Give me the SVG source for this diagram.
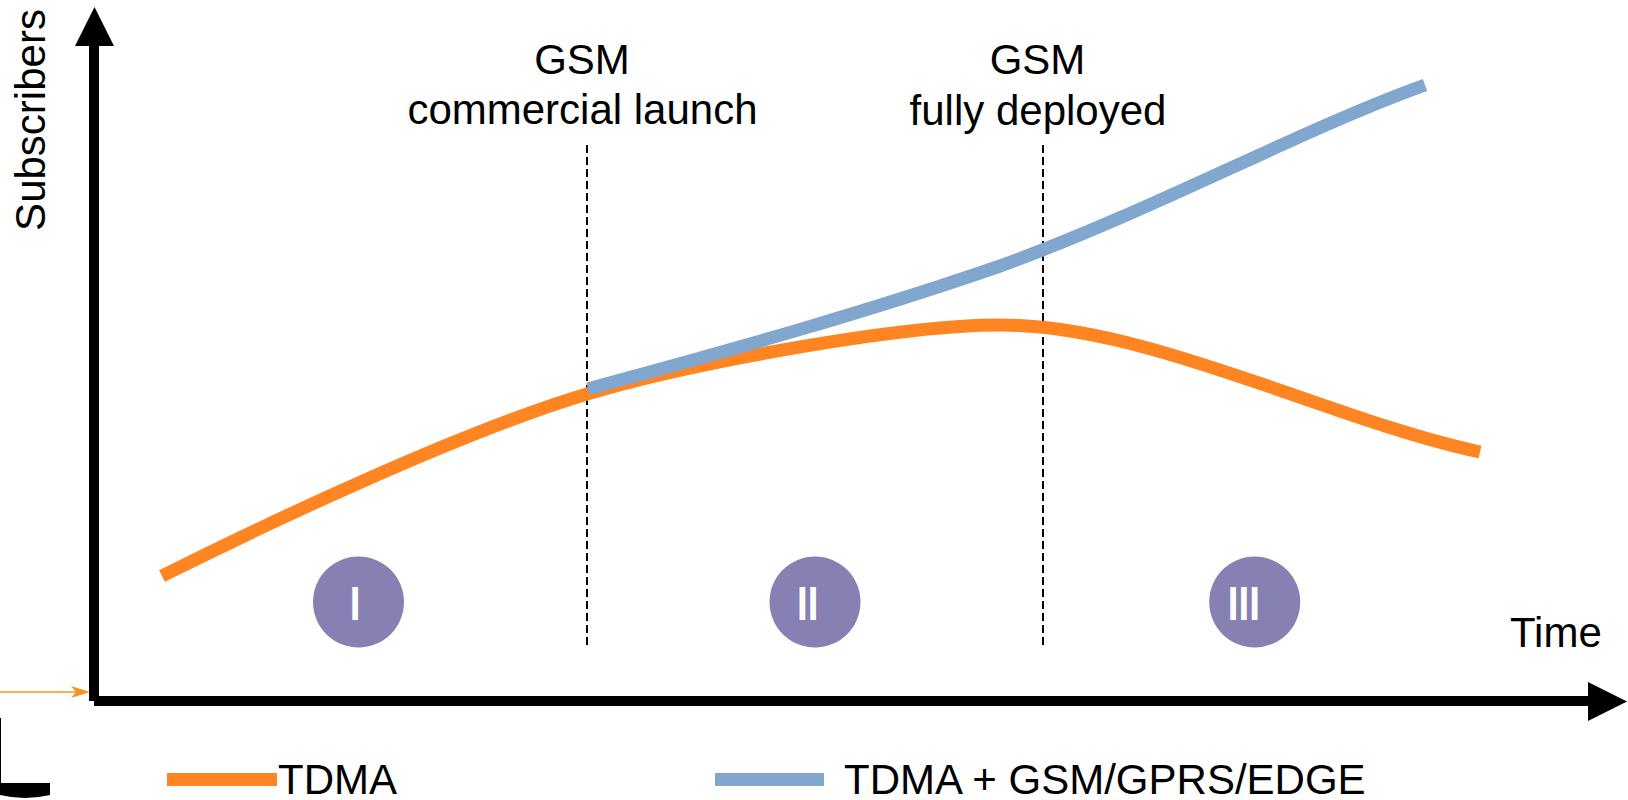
<svg xmlns="http://www.w3.org/2000/svg" width="1628" height="800" viewBox="0 0 1628 800">
<style>
.lbl{font-family:"Liberation Sans",Arial,sans-serif;font-size:42px;fill:#000}
.num{font-family:"Liberation Sans",Arial,sans-serif;font-size:48px;font-weight:bold;fill:#fff;text-anchor:middle}
.circ{fill:#8780B2}
.dash{stroke:#000;stroke-width:2;stroke-dasharray:8 4;fill:none}
.curve{fill:none;stroke-width:13;stroke-linecap:butt}
</style>
<rect width="1628" height="800" fill="#fff"/>
<g id="axes">
<path d="M94,701 V44" stroke="#000" stroke-width="10" fill="none"/>
<path d="M94,701 H1590" stroke="#000" stroke-width="10" fill="none"/>
<polygon points="75,46 114,46 94.5,7" fill="#000"/>
<polygon points="1588,682 1588,721 1627,701.5" fill="#000"/>
<text class="lbl" transform="translate(45,120) rotate(-90)" text-anchor="middle">Subscribers</text>
<text class="lbl" x="1510" y="647">Time</text>
</g>
<g id="markers">
<line class="dash" x1="587" y1="145" x2="587" y2="648"/>
<line class="dash" x1="1043" y1="145" x2="1043" y2="648"/>
<text class="lbl" x="582" y="74" text-anchor="middle">GSM</text>
<text class="lbl" x="582.5" y="123.5" text-anchor="middle">commercial launch</text>
<text class="lbl" x="1037.5" y="74" text-anchor="middle">GSM</text>
<text class="lbl" x="1038" y="124.5" text-anchor="middle">fully deployed</text>
</g>
<g id="connectors">
<path id="tdma" class="curve" stroke="#FF8522" d="M162,576 C282,516 467,430 587,394 C690,363 900,325 1000,325 C1150,325 1330,420 1480,452"/>
<path id="gsm" class="curve" stroke="#81A7CF" d="M588,389 C700,358 850,318 1000,266 C1150,212 1300,130 1425,85"/>
<line x1="0" y1="692" x2="78" y2="692" stroke="#F7941D" stroke-width="1.5"/>
<polygon points="90,692 71,686 76,692 71,698" fill="#F7941D"/>
</g>
<g id="phase1">
<circle class="circ" cx="358.5" cy="602" r="45.5"/>
<text class="num" transform="translate(355,620) scale(0.8,1)">I</text>
</g>
<g id="phase2">
<circle class="circ" cx="815" cy="602" r="45.5"/>
<text class="num" transform="translate(807.7,620) scale(0.8,1)">II</text>
</g>
<g id="phase3">
<circle class="circ" cx="1254.7" cy="602" r="45.5"/>
<text class="num" transform="translate(1243.8,620) scale(0.8,1)">III</text>
</g>
<g id="legend">
<rect x="167" y="773" width="110" height="13" fill="#FF8522"/>
<text class="lbl" x="278" y="794">TDMA</text>
<rect x="715" y="773" width="109" height="13" fill="#81A7CF"/>
<text class="lbl" x="844" y="794">TDMA + GSM/GPRS/EDGE</text>
</g>
<g id="artifact">
<line x1="0.5" y1="718" x2="0.5" y2="784" stroke="#000" stroke-width="1"/>
<path d="M0,783 H50 V795 Q25,801 0,795 Z" fill="#000"/>
</g>
</svg>
